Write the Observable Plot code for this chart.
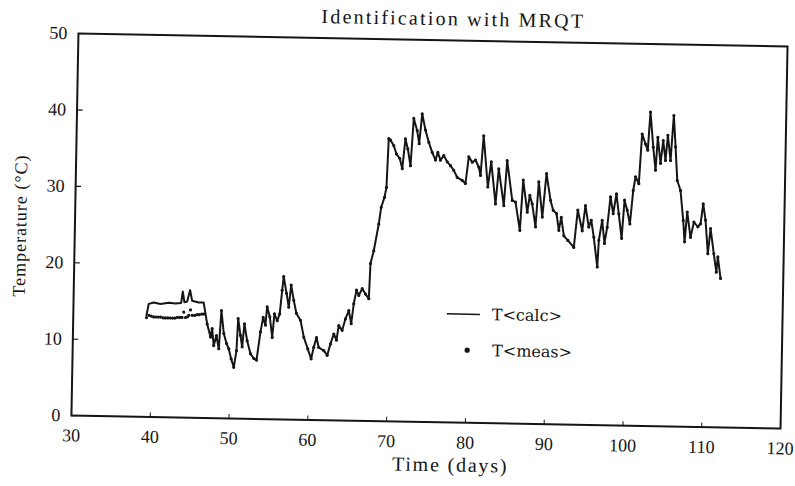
<!DOCTYPE html>
<html><head><meta charset="utf-8">
<script src="https://cdn.jsdelivr.net/npm/d3@7"></script>
<script src="https://cdn.jsdelivr.net/npm/@observablehq/plot@0.6"></script>
<style>
html,body{margin:0;padding:0;background:#fff;overflow:hidden}
#chart{width:795px;height:486px;transform:rotate(1.05deg);transform-origin:430px 230px}
</style></head><body><div id="chart"></div>
<script>
const title = "Identification with MRQT";
const xLabel = "Time (days)";
const yLabel = "Temperature (°C)";
const xTicks = [30, 40, 50, 60, 70, 80, 90, 100, 110, 120];
const yTicks = [0, 10, 20, 30, 40, 50];
const legendLabels = ["T<calc>", "T<meas>"];

// start of the record, where calc and meas differ
const calcStartDays = [39.29, 39.55, 40.18, 41.03, 42.09, 42.94, 43.66, 43.84, 44.07, 44.42, 44.77, 45.05, 45.89, 46.52];
const calcStartTemps = [13.3, 14.8, 15.0, 14.8, 15.0, 14.9, 15.0, 16.5, 15.1, 15.2, 16.7, 15.3, 15.1, 15.1];
const measStartDays = [39.29, 39.6, 39.9, 40.2, 40.5, 40.8, 41.1, 41.4, 41.7, 42.0, 42.3, 42.6, 42.9, 43.2, 43.5, 43.8, 44.01, 44.24, 44.5, 44.66, 44.86, 45.08, 45.4, 45.7, 46.0, 46.3, 46.55];
const measStartTemps = [13.0, 13.3, 13.2, 13.1, 13.1, 13.1, 13.1, 13.0, 13.0, 13.0, 13.0, 13.0, 13.0, 13.1, 13.1, 13.1, 13.8, 13.1, 13.2, 13.4, 14.1, 13.4, 13.4, 13.5, 13.5, 13.6, 13.6];

// remainder, where calc and meas coincide
const days = [
  47.01,47.46,47.65,47.89,48.21,48.54,48.79,49.14,49.51,49.81,
  50.13,50.48,50.79,50.93,51.26,51.5,51.74,52.12,52.58,53.01,
  53.35,53.79,54.1,54.4,54.58,54.94,55.29,55.52,55.89,56.19,
  56.45,56.61,57.01,57.32,57.58,57.94,58.31,58.85,59.3,59.83,
  60.28,60.58,60.91,61.22,61.87,62.31,62.7,63.1,63.45,63.71,
  64.15,64.54,64.95,65.28,65.56,65.88,66.18,66.6,67.03,67.46,
  67.59,67.98,68.55,68.82,69.21,69.44,69.62,69.85,70.27,70.63,
  71.07,71.4,71.74,72.06,72.44,72.75,73.21,73.49,73.81,74.26,
  74.71,75.16,75.6,75.88,76.23,76.64,77.09,77.51,77.94,78.39,
  79.04,79.45,79.82,80.27,80.67,81.1,81.35,81.66,82.3,82.68,
  83.31,83.65,84.37,84.7,85.43,85.85,86.46,86.78,87.36,87.65,
  87.97,88.44,88.76,89.28,89.72,90.29,90.65,91.08,91.41,91.69,
  92.06,92.58,93.35,93.77,94.38,94.73,95.2,95.5,95.86,96.37,
  96.51,96.89,97.23,97.54,97.89,98.27,98.64,98.98,99.39,99.68,
  100.04,100.41,100.76,101.02,101.45,101.76,102.21,102.51,102.77,103.2,
  103.54,103.76,104.16,104.45,104.78,105.03,105.42,105.74,106.03,106.32,
  106.76,107.17,107.39,107.66,108.13,108.53,109.04,109.38,109.67,110.0,
  110.37,110.66,111.13,111.49,111.65,112.04
];
const temps = [
  12.3,10.6,11.7,9.5,10.8,9.1,14.1,11.1,9.8,9.1,
  7.8,6.7,8.9,13.1,10.9,9.4,12.4,10.2,8.5,7.9,
  7.7,11.4,13.3,12.3,14.7,13.4,10.7,13.8,12.9,13.8,
  16.9,18.7,16.5,14.7,17.6,15.6,13.9,13.0,10.8,9.3,
  8.0,9.5,10.8,9.5,9.1,8.5,10.0,11.3,10.5,12.4,
  11.8,13.3,14.4,12.7,15.3,17.1,16.4,17.3,16.6,16.0,
  20.6,22.3,25.8,28.0,29.3,30.6,37.0,36.8,36.1,35.0,
  34.4,33.1,37.0,35.7,33.5,39.7,38.1,36.4,40.3,38.2,
  36.6,35.3,34.3,35.3,34.3,34.9,34.1,33.6,33.0,32.1,
  31.7,31.3,34.8,34.1,34.4,33.5,32.4,37.6,30.9,34.2,
  28.7,33.3,28.5,34.4,29.2,29.0,25.3,31.9,27.7,29.9,
  28.8,25.8,31.7,27.1,32.8,29.3,28.0,27.6,25.4,27.1,
  24.7,24.1,23.2,28.1,25.4,28.7,25.9,26.8,24.6,20.7,
  24.2,26.8,23.8,25.9,29.9,27.7,30.3,27.7,24.5,29.5,
  28.2,26.4,30.8,32.6,31.7,38.2,36.9,36.1,41.1,36.5,
  33.5,37.8,34.4,37.4,34.8,38.1,34.8,40.7,36.6,32.2,
  30.9,27.0,24.2,28.1,24.8,26.8,26.2,26.6,29.2,27.1,
  22.7,26.0,22.7,20.3,22.3,19.5
];

const toRows = (ds, ts) => ds.map((d, i) => ({day: d, temp: ts[i]}));
const calc = toRows(calcStartDays, calcStartTemps).concat(toRows(days, temps));
const meas = toRows(measStartDays, measStartTemps).concat(toRows(days, temps));

const ink = "#151515";
const serif = "Liberation Serif, Times New Roman, serif";
const W = 795, H = 486, mL = 74.4, mR = 11.4, mT = 39.5, mB = 64.4;
const frameW = W - mL - mR, frameH = H - mT - mB;

const legend = (index, scales, values, dims) => {
  const g = d3.create("svg:g").attr("fill", ink);
  const x0 = dims.marginLeft, y0 = dims.marginTop;
  g.append("line").attr("x1", x0 + 374).attr("x2", x0 + 407)
    .attr("y1", y0 + 274).attr("y2", y0 + 274).attr("stroke", ink).attr("stroke-width", 1.6);
  g.append("circle").attr("cx", x0 + 395).attr("cy", y0 + 310).attr("r", 2.6);
  const t = g.append("g").attr("font-family", "DejaVu Serif").attr("font-size", 16)
    .attr("text-anchor", "start").attr("dominant-baseline", "central");
  t.append("text").attr("x", x0 + 419).attr("y", y0 + 274).text(legendLabels[0]);
  t.append("text").attr("x", x0 + 420).attr("y", y0 + 310).text(legendLabels[1]);
  return g.node();
};

const plot = Plot.plot({
  width: W, height: H,
  marginLeft: mL, marginRight: mR, marginTop: mT, marginBottom: mB,
  x: {domain: [30, 120]},
  y: {domain: [0, 50]},
  style: {fontFamily: serif, fontSize: "18px", color: ink, background: "#fff", overflow: "visible"},
  marks: [
    Plot.axisX({ticks: xTicks, tickSize: 0, tickPadding: 13, label: null, fontSize: 18}),
    Plot.axisY({ticks: yTicks, tickSize: 0, tickPadding: 11, label: null, fontSize: 18}),
    Plot.tickX(xTicks, {insetTop: frameH - 4, stroke: ink, strokeWidth: 1}),
    Plot.tickY(yTicks, {insetRight: frameW - 6, stroke: ink, strokeWidth: 1.2}),
    Plot.frame({stroke: ink, strokeWidth: 2}),
    Plot.line(calc, {x: "day", y: "temp", stroke: ink, strokeWidth: 2}),
    Plot.dot(meas, {x: "day", y: "temp", r: 1.6, fill: ink, stroke: null}),
    Plot.text([title], {frameAnchor: "top", dx: 20, dy: -15, lineAnchor: "bottom", fontSize: 20, fontFamily: serif, fill: ink}),
    Plot.text([xLabel], {frameAnchor: "bottom", dx: 25, dy: 49, lineAnchor: "bottom", fontSize: 20, fontFamily: serif, fill: ink}),
    Plot.text([yLabel], {frameAnchor: "left", textAnchor: "middle", dx: -54.5, dy: 2, rotate: -90, lineAnchor: "middle", fontSize: 18, fontFamily: serif, fill: ink}),
    legend
  ]
});
const spacing = {[title]: "2.2px", [xLabel]: "1.8px", [yLabel]: "1px"};
d3.select(plot).selectAll("text").each(function () {
  const s = spacing[this.textContent];
  if (s) this.style.letterSpacing = s;
});
document.getElementById("chart").appendChild(plot);
</script></body></html>
